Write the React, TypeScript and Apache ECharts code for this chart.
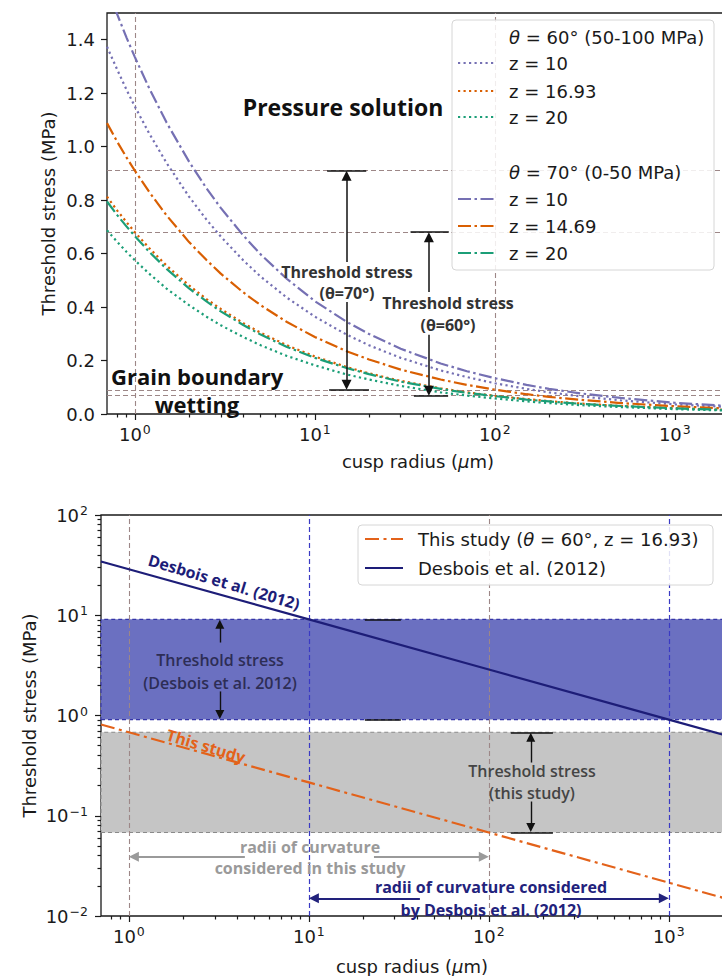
import React, { useEffect, useRef } from "react";
import * as echarts from "echarts";

// Cusp radii (µm) at which the threshold-stress curves are sampled
const radii = [0.7, 0.8, 0.9, 1, 1.2, 1.5, 2, 2.5, 3, 4, 5, 7, 10, 15, 20, 30, 50, 70, 100, 150, 200, 300, 500, 1000, 2000];

// θ = 60° (50-100 MPa)
const theta60z10 = [1.374, 1.286, 1.212, 1.15, 1.05, 0.939, 0.813, 0.727, 0.664, 0.575, 0.514, 0.435, 0.364, 0.297, 0.257, 0.21, 0.163, 0.138, 0.115, 0.094, 0.081, 0.066, 0.051, 0.036, 0.026];
const theta60z1693 = [0.813, 0.76, 0.717, 0.68, 0.621, 0.555, 0.481, 0.43, 0.393, 0.34, 0.304, 0.257, 0.215, 0.176, 0.152, 0.124, 0.096, 0.081, 0.068, 0.056, 0.048, 0.039, 0.03, 0.022, 0.015];
const theta60z20 = [0.687, 0.643, 0.606, 0.575, 0.525, 0.469, 0.407, 0.364, 0.332, 0.288, 0.257, 0.217, 0.182, 0.148, 0.129, 0.105, 0.081, 0.069, 0.058, 0.047, 0.041, 0.033, 0.026, 0.018, 0.013];

// θ = 70° (0-50 MPa)
const theta70z10 = [1.595, 1.493, 1.407, 1.335, 1.219, 1.09, 0.944, 0.844, 0.771, 0.668, 0.597, 0.505, 0.422, 0.345, 0.299, 0.244, 0.189, 0.16, 0.134, 0.109, 0.094, 0.077, 0.06, 0.042, 0.03];
const theta70z1469 = [1.088, 1.017, 0.959, 0.91, 0.831, 0.743, 0.643, 0.576, 0.525, 0.455, 0.407, 0.344, 0.288, 0.235, 0.204, 0.166, 0.129, 0.109, 0.091, 0.074, 0.064, 0.053, 0.041, 0.029, 0.02];
const theta70z20 = [0.795, 0.743, 0.701, 0.665, 0.607, 0.543, 0.47, 0.421, 0.384, 0.333, 0.297, 0.251, 0.21, 0.172, 0.149, 0.121, 0.094, 0.079, 0.067, 0.054, 0.047, 0.038, 0.03, 0.021, 0.015];

// log-log comparison with Desbois et al. (2012)
const compareRadii = [0.7, 1, 10, 100, 1000, 2000];
const thisStudy = [0.813, 0.68, 0.215, 0.068, 0.0215, 0.0152];
const desbois2012 = [34.4, 28.8, 9.1, 2.88, 0.91, 0.644];

// threshold levels (MPa) and radius ranges (µm)
const threshold70 = [0.91, 0.091];
const threshold60 = [0.68, 0.068];
const desboisBand = [0.91, 9.1];
const studyBand = [0.068, 0.68];
const studyRange = [1, 100];
const desboisRange = [10, 1000];

// tick values
const linearTicks = [0, 0.2, 0.4, 0.6, 0.8, 1.0, 1.2, 1.4];
const radiusDecades = [0, 1, 2, 3];
const stressDecades = [-2, -1, 0, 1, 2];

const PURPLE = "#7570b3";
const ORANGE = "#d95f02";
const TEAL = "#1b9e77";
const NAVY = "#1d1d78";
const REF = "#9d8787";
const REF_BLUE = "#3a3ac4";
const INK = "#1a1a1a";
const AXIS_FONT = "DejaVu Sans";
const NOTE_FONT = '"Open Sans", sans-serif';

const DOT = [2.2, 3.3];
const DASHDOT = [13, 3.5, 2.5, 3.5];

const lg = (v: number) => Math.log10(v);

const topCurves = [
  { name: "θ=60°, z=10", values: theta60z10, color: PURPLE, dash: DOT },
  { name: "θ=60°, z=16.93", values: theta60z1693, color: ORANGE, dash: DOT },
  { name: "θ=60°, z=20", values: theta60z20, color: TEAL, dash: DOT },
  { name: "θ=70°, z=10", values: theta70z10, color: PURPLE, dash: DASHDOT },
  { name: "θ=70°, z=14.69", values: theta70z1469, color: ORANGE, dash: DASHDOT },
  { name: "θ=70°, z=20", values: theta70z20, color: TEAL, dash: DASHDOT },
];

const powLabel = (v: number) => {
  const e = Math.round(v);
  return `{b|10}{s|${e < 0 ? "\u2212" + -e : e}}`;
};
const powRich = {
  b: { fontFamily: AXIS_FONT, fontSize: 18, color: INK },
  s: { fontFamily: AXIS_FONT, fontSize: 12.5, color: INK, padding: [0, 0, 9, 1] },
};
const nameStyle = {
  fontFamily: AXIS_FONT,
  fontSize: 18,
  color: INK,
  rich: { i: { fontFamily: AXIS_FONT, fontSize: 18, color: INK, fontStyle: "italic" } },
};
const tickLine = { color: INK, width: 1.2 };

function buildOption() {
  const xMin = lg(0.7);
  const xMax = lg(2000);
  const gridW = 622;
  const gridH = 401;
  const TIP = 5; // px that an arrowhead reaches past its anchor
  const linPerPx = 1.5 / gridH;
  const logPerPxY = 4 / gridH;
  const logPerPxX = (xMax - xMin) / gridW;

  const minorX: number[] = [];
  for (let d = -1; d <= 3; d++)
    for (let k = 2; k <= 9; k++) {
      const v = k * Math.pow(10, d);
      if (v > 0.7 + 1e-9 && v < 2000 - 1e-9) minorX.push(lg(v));
    }
  const minorY: number[] = [];
  for (let d = -2; d <= 1; d++) for (let k = 2; k <= 9; k++) minorY.push(lg(k * Math.pow(10, d)));

  const majorXAxis = (gridIndex: number) => ({
    type: "value",
    gridIndex,
    position: "bottom",
    min: xMin,
    max: xMax,
    axisLine: { show: false, onZero: false },
    splitLine: { show: false },
    axisTick: { show: true, length: 6, customValues: radiusDecades, lineStyle: tickLine },
    axisLabel: { show: true, customValues: radiusDecades, formatter: powLabel, rich: powRich, margin: 9 },
    name: "cusp radius ({i|μ}m)",
    nameLocation: "middle",
    nameGap: gridIndex === 0 ? 38 : 41,
    nameMoveOverlap: false,
    nameTextStyle: nameStyle,
  });
  const minorXAxis = (gridIndex: number) => ({
    type: "value",
    gridIndex,
    position: "bottom",
    min: xMin,
    max: xMax,
    axisLine: { show: false, onZero: false },
    splitLine: { show: false },
    axisTick: { show: true, length: 3.5, customValues: minorX, lineStyle: tickLine },
    axisLabel: { show: false },
  });

  const line = { type: "line", showSymbol: false, symbol: "none", silent: true, animation: false };
  const marker = { silent: true, animation: false, label: { show: false }, emphasis: { disabled: true } };
  const seg = (a: number[], b: number[]) => [{ coord: a }, { coord: b }];

  const series: any[] = [];

  // ---- top panel: threshold stress vs cusp radius ----
  topCurves.forEach((c) => {
    series.push({
      ...line,
      name: c.name,
      xAxisIndex: 0,
      yAxisIndex: 0,
      z: 3,
      data: radii.map((r, i) => [lg(r), c.values[i]]),
      lineStyle: { color: c.color, width: 2.2, type: c.dash, cap: "butt", join: "round" },
    });
  });

  series.push({
    ...line,
    name: "reference levels",
    xAxisIndex: 0,
    yAxisIndex: 0,
    data: [],
    markLine: {
      ...marker,
      z: 1,
      symbol: "none",
      lineStyle: { color: REF, width: 1.1, type: [5, 3] },
      data: [
        ...studyRange.map((r) => ({ xAxis: lg(r) })),
        ...threshold70.map((s) => ({ yAxis: s })),
        ...threshold60.map((s) => ({ yAxis: s })),
      ],
    },
  });

  const a70 = lg(15);
  const a60 = lg(43);
  series.push({
    ...line,
    name: "threshold arrows",
    xAxisIndex: 0,
    yAxisIndex: 0,
    data: [],
    markLine: {
      ...marker,
      z: 6,
      symbol: ["none", "triangle"],
      symbolSize: 10,
      lineStyle: { color: "#111", width: 1.5, type: "solid" },
      data: [
        seg([a70, 0.569], [a70, threshold70[0] - TIP * linPerPx]),
        seg([a70, 0.419], [a70, threshold70[1] + TIP * linPerPx]),
        seg([a60, 0.456], [a60, threshold60[0] - TIP * linPerPx]),
        seg([a60, 0.296], [a60, threshold60[1] + TIP * linPerPx]),
      ],
    },
  });
  series.push({
    ...line,
    name: "threshold caps",
    xAxisIndex: 0,
    yAxisIndex: 0,
    data: [],
    markLine: {
      ...marker,
      z: 6,
      symbol: "none",
      lineStyle: { color: "#111", width: 1.7, type: "solid" },
      data: [
        seg([lg(11.7), threshold70[0]], [lg(19.3), threshold70[0]]),
        seg([lg(12), threshold70[1]], [lg(20), threshold70[1]]),
        seg([lg(34), threshold60[0]], [lg(55.5), threshold60[0]]),
        seg([lg(35.5), threshold60[1]], [lg(55), threshold60[1]]),
      ],
    },
  });

  // ---- bottom panel: log-log comparison ----
  series.push({
    ...line,
    name: "Desbois band",
    xAxisIndex: 2,
    yAxisIndex: 1,
    z: 0,
    data: [],
    markArea: {
      ...marker,
      z: 0,
      itemStyle: { color: "#6b70c1", borderColor: "#3535a8", borderWidth: 1.1, borderType: [4, 3] },
      data: [[{ yAxis: lg(desboisBand[0]) }, { yAxis: lg(desboisBand[1]) }]],
    },
  });
  series.push({
    ...line,
    name: "study band",
    xAxisIndex: 2,
    yAxisIndex: 1,
    z: 0,
    data: [],
    markArea: {
      ...marker,
      z: 0,
      itemStyle: { color: "#c5c5c5", borderColor: "#8a8a8a", borderWidth: 1.1, borderType: [4, 3] },
      data: [[{ yAxis: lg(studyBand[0]) }, { yAxis: lg(studyBand[1]) }]],
    },
  });
  series.push({
    ...line,
    name: "study range",
    xAxisIndex: 2,
    yAxisIndex: 1,
    data: [],
    markLine: {
      ...marker,
      z: 2,
      symbol: "none",
      lineStyle: { color: REF, width: 1.1, type: [5, 3] },
      data: studyRange.map((r) => ({ xAxis: lg(r) })),
    },
  });
  series.push({
    ...line,
    name: "Desbois range",
    xAxisIndex: 2,
    yAxisIndex: 1,
    data: [],
    markLine: {
      ...marker,
      z: 2,
      symbol: "none",
      lineStyle: { color: REF_BLUE, width: 1.2, type: [5, 3] },
      data: desboisRange.map((r) => ({ xAxis: lg(r) })),
    },
  });

  series.push({
    ...line,
    name: "This study (θ = 60°, z = 16.93)",
    xAxisIndex: 2,
    yAxisIndex: 1,
    z: 4,
    data: compareRadii.map((r, i) => [lg(r), lg(thisStudy[i])]),
    lineStyle: { color: "#e3621a", width: 2.2, type: [14, 4.5, 3, 4.5], cap: "butt" },
  });
  series.push({
    ...line,
    name: "Desbois et al. (2012)",
    xAxisIndex: 2,
    yAxisIndex: 1,
    z: 4,
    data: compareRadii.map((r, i) => [lg(r), lg(desbois2012[i])]),
    lineStyle: { color: NAVY, width: 2.2, type: "solid" },
  });

  const aD = lg(3.2);
  const aS = lg(171);
  series.push({
    ...line,
    name: "band arrows",
    xAxisIndex: 2,
    yAxisIndex: 1,
    data: [],
    markLine: {
      ...marker,
      z: 6,
      symbol: ["none", "triangle"],
      symbolSize: 9,
      lineStyle: { color: "#111", width: 1.4, type: "solid" },
      data: [
        seg([aD, 0.728], [aD, lg(desboisBand[1]) - TIP * logPerPxY]),
        seg([aD, 0.24], [aD, lg(desboisBand[0]) + TIP * logPerPxY]),
        seg([aS, -0.469], [aS, lg(studyBand[1]) - TIP * logPerPxY]),
        seg([aS, -0.858], [aS, lg(studyBand[0]) + TIP * logPerPxY]),
      ],
    },
  });
  series.push({
    ...line,
    name: "band caps",
    xAxisIndex: 2,
    yAxisIndex: 1,
    data: [],
    markLine: {
      ...marker,
      z: 6,
      symbol: "none",
      lineStyle: { color: "#111", width: 1.7, type: "solid" },
      data: [
        seg([1.311, lg(desboisBand[1])], [1.511, lg(desboisBand[1])]),
        seg([1.311, lg(desboisBand[0])], [1.511, lg(desboisBand[0])]),
        seg([2.122, lg(studyBand[1])], [2.356, lg(studyBand[1])]),
        seg([2.122, lg(studyBand[0])], [2.356, lg(studyBand[0])]),
      ],
    },
  });
  const yGray = lg(0.039);
  series.push({
    ...line,
    name: "study range arrows",
    xAxisIndex: 2,
    yAxisIndex: 1,
    data: [],
    markLine: {
      ...marker,
      z: 6,
      symbol: ["none", "triangle"],
      symbolSize: 10,
      lineStyle: { color: "#9a9a9a", width: 2, type: "solid" },
      data: [
        seg([lg(4.41), yGray], [lg(studyRange[0]) + TIP * logPerPxX, yGray]),
        seg([lg(23), yGray], [lg(studyRange[1]) - TIP * logPerPxX, yGray]),
      ],
    },
  });
  const yNavy = lg(0.015);
  series.push({
    ...line,
    name: "Desbois range arrows",
    xAxisIndex: 2,
    yAxisIndex: 1,
    data: [],
    markLine: {
      ...marker,
      z: 6,
      symbol: ["none", "triangle"],
      symbolSize: 10,
      lineStyle: { color: "#22227c", width: 2, type: "solid" },
      data: [
        seg([lg(41.4), yNavy], [lg(desboisRange[0]) + TIP * logPerPxX, yNavy]),
        seg([lg(258), yNavy], [lg(desboisRange[1]) - TIP * logPerPxX, yNavy]),
      ],
    },
  });

  // ---- text notes and legends ----
  const note = (text: string, x: number, y: number, font: string, fill: string, align = "center", extra: any = {}) => ({
    type: "text",
    x,
    y,
    z: 60,
    silent: true,
    rotation: extra.rotation || 0,
    style: {
      text,
      font,
      fill,
      align,
      textAlign: align,
      verticalAlign: "middle",
      textVerticalAlign: "middle",
      lineHeight: extra.lineHeight || 20,
    },
  });
  const legendText = (text: string, x: number, y: number) => ({
    type: "text",
    x,
    y,
    z: 61,
    silent: true,
    style: {
      text,
      font: `18px "${AXIS_FONT}"`,
      fill: INK,
      align: "left",
      textAlign: "left",
      verticalAlign: "middle",
      textVerticalAlign: "middle",
      rich: { i: { fontFamily: AXIS_FONT, fontSize: 18, fontStyle: "italic", fill: INK } },
    },
  });
  const legendLine = (x1: number, x2: number, y: number, color: string, dash: any) => ({
    type: "line",
    z: 61,
    silent: true,
    shape: { x1, y1: y, x2, y2: y },
    style: { stroke: color, lineWidth: 2.2, lineDash: dash, lineCap: "butt" },
  });

  const topRows = [37, 63, 91, 117, 172, 199, 226, 253];
  const zLabels = ["z = 10", "z = 16.93", "z = 20", "z = 10", "z = 14.69", "z = 20"];
  const topLegend: any[] = [
    {
      type: "rect",
      z: 59,
      silent: true,
      shape: { x: 452, y: 20, width: 262, height: 250, r: 4 },
      style: { fill: "rgba(255,255,255,0.85)", stroke: "#d6d6d6", lineWidth: 1 },
    },
    legendText("{i|θ} = 60° (50-100 MPa)", 509, topRows[0]),
    legendText("{i|θ} = 70° (0-50 MPa)", 509, topRows[4]),
  ];
  topCurves.forEach((c, i) => {
    const row = i < 3 ? topRows[i + 1] : topRows[i + 2];
    topLegend.push(legendLine(458, 495, row, c.color, c.dash));
    topLegend.push(legendText(zLabels[i], 509, row));
  });

  const bottomLegend = [
    {
      type: "rect",
      z: 59,
      silent: true,
      shape: { x: 358, y: 525, width: 355, height: 60, r: 4 },
      style: { fill: "rgba(255,255,255,0.85)", stroke: "#d6d6d6", lineWidth: 1 },
    },
    legendLine(365, 403, 539, "#e3621a", [14, 4.5, 3, 4.5]),
    legendText("This study ({i|θ} = 60°, z = 16.93)", 418, 539),
    legendLine(365, 403, 568, NAVY, null),
    legendText("Desbois et al. (2012)", 418, 568),
  ];

  const big = `bold 23px ${NOTE_FONT}`;
  const big2 = `bold 22px ${NOTE_FONT}`;
  const mid = `bold 16px ${NOTE_FONT}`;
  const semi = `600 16px ${NOTE_FONT}`;

  const graphic = [
    note("Pressure solution", 343, 107, big, "#111"),
    note("Grain boundary", 111, 376, big2, "#111", "left"),
    note("wetting", 197, 404, big2, "#111"),
    note("Threshold stress\n(θ=70°)", 347, 282, mid, "#333", "center", { lineHeight: 21 }),
    note("Threshold stress\n(θ=60°)", 448, 314, mid, "#333", "center", { lineHeight: 22 }),
    ...topLegend,
    note("Desbois et al. (2012)", 224, 582, mid, NAVY, "center", { rotation: -0.29 }),
    note("This study", 206, 746, mid, "#e3621a", "center", { rotation: -0.29 }),
    note("Threshold stress\n(Desbois et al. 2012)", 220, 671, semi, "#2d2d55", "center", { lineHeight: 23 }),
    note("Threshold stress\n(this study)", 532, 782, semi, "#444", "center", { lineHeight: 22 }),
    note("radii of curvature\nconsidered in this study", 310, 857, mid, "#9a9a9a", "center", { lineHeight: 21 }),
    note("radii of curvature considered\nby Desbois et al. (2012)", 491, 898, mid, "#22227c", "center", { lineHeight: 23 }),
    ...bottomLegend,
  ];

  return {
    animation: false,
    backgroundColor: "#ffffff",
    grid: [
      { left: 107, top: 13, width: gridW, height: gridH, show: true, borderColor: INK, borderWidth: 1.3, backgroundColor: "transparent" },
      { left: 101, top: 515, width: gridW, height: gridH, show: true, borderColor: INK, borderWidth: 1.3, backgroundColor: "transparent" },
    ],
    xAxis: [majorXAxis(0), minorXAxis(0), majorXAxis(1), minorXAxis(1)],
    yAxis: [
      {
        type: "value",
        gridIndex: 0,
        position: "left",
        min: 0,
        max: 1.5,
        axisLine: { show: false, onZero: false },
        splitLine: { show: false },
        axisTick: { show: true, length: 6, customValues: linearTicks, lineStyle: tickLine },
        axisLabel: {
          customValues: linearTicks,
          formatter: (v: number) => v.toFixed(1),
          fontFamily: AXIS_FONT,
          fontSize: 18,
          color: INK,
          margin: 12,
        },
        name: "Threshold stress (MPa)",
        nameLocation: "middle",
        nameGap: 50,
        nameMoveOverlap: false,
        nameTextStyle: nameStyle,
      },
      {
        type: "value",
        gridIndex: 1,
        position: "left",
        min: -2,
        max: 2,
        interval: 1,
        axisLine: { show: false, onZero: false },
        splitLine: { show: false },
        axisTick: { show: true, length: 6, customValues: stressDecades, lineStyle: tickLine },
        axisLabel: { customValues: stressDecades, formatter: powLabel, rich: powRich, margin: 13 },
        name: "Threshold stress (MPa)",
        nameLocation: "middle",
        nameGap: 63,
        nameMoveOverlap: false,
        nameTextStyle: nameStyle,
      },
      {
        type: "value",
        gridIndex: 1,
        position: "left",
        min: -2,
        max: 2,
        axisLine: { show: false, onZero: false },
        splitLine: { show: false },
        axisTick: { show: true, length: 3.5, customValues: minorY, lineStyle: tickLine },
        axisLabel: { show: false },
      },
    ],
    series,
    graphic,
  };
}

export default function App() {
  const ref = useRef<HTMLDivElement>(null);
  useEffect(() => {
    if (!ref.current) return;
    const chart = echarts.init(ref.current, undefined, { renderer: "svg" });
    chart.setOption(buildOption() as any);
    return () => chart.dispose();
  }, []);
  return (
    <div
      style={{
        position: "fixed",
        left: 0,
        top: 0,
        width: 722,
        height: 976,
        overflow: "hidden",
        background: "#fff",
      }}
    >
      <div ref={ref} style={{ width: 740, height: 976 }} />
    </div>
  );
}
